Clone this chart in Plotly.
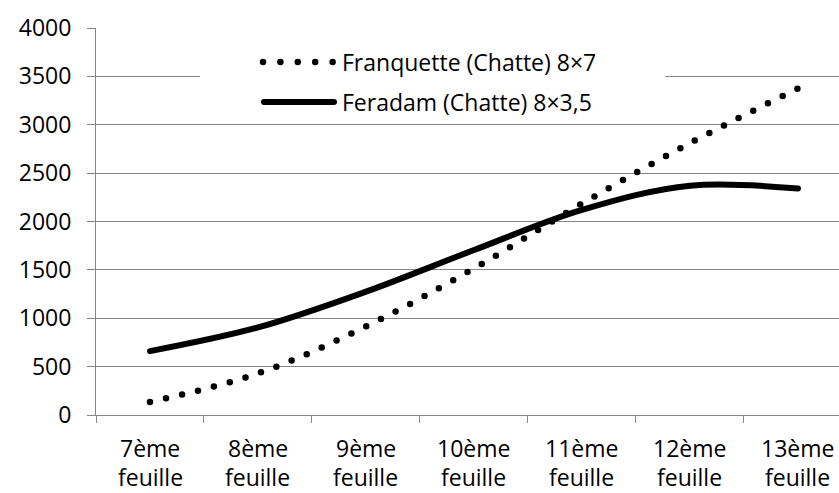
import plotly.graph_objects as go

label_top = ["7ème", "8ème", "9ème", "10ème", "11ème", "12ème", "13ème"]
label_bottom = ["feuille"] * 7
categories = [a + " " + b for a, b in zip(label_top, label_bottom)]
franquette = [135, 430, 915, 1515, 2185, 2810, 3375]
feradam = [660, 905, 1275, 1705, 2120, 2370, 2340]
series_names = ["Franquette (Chatte) 8×7", "Feradam (Chatte) 8×3,5"]
y_ticks = [0, 500, 1000, 1500, 2000, 2500, 3000, 3500, 4000]

W, H = 839, 493
L, R, T, B = 96, 0, 28, 78
PW, PH = W - L - R, H - T - B

def px_x(p):
    return (p - L) / PW

def px_y(p):
    return (H - B - p) / PH

FONT = "Open Sans"
FS = 23
GRID = "#868686"

fig = go.Figure()
fig.add_trace(go.Scatter(x=categories, y=franquette, mode="lines", name=series_names[0],
                         line=dict(color="black", width=6.5, dash="0px,16.5px", shape="spline"),
                         showlegend=False))
fig.add_trace(go.Scatter(x=categories, y=feradam, mode="lines", name=series_names[1],
                         line=dict(color="black", width=6, shape="spline"),
                         showlegend=False))

# legend box (custom, Excel style)
shapes = [
    dict(type="rect", xref="paper", yref="paper", x0=px_x(200), x1=px_x(665),
         y0=px_y(122), y1=px_y(40), fillcolor="white", line=dict(width=0), layer="above"),
    dict(type="line", xref="paper", yref="paper", x0=px_x(263), x1=px_x(333),
         y0=px_y(62), y1=px_y(62), line=dict(color="black", width=6.5, dash="0px,17.4px"),
         layer="above"),
    dict(type="line", xref="paper", yref="paper", x0=px_x(264), x1=px_x(334),
         y0=px_y(102), y1=px_y(102), line=dict(color="black", width=6), layer="above"),
]
annotations = [
    dict(xref="paper", yref="paper", x=px_x(340), y=px_y(62), text=series_names[0],
         showarrow=False, xanchor="left", yanchor="middle",
         font=dict(family=FONT, size=FS, color="black")),
    dict(xref="paper", yref="paper", x=px_x(340), y=px_y(102), text=series_names[1],
         showarrow=False, xanchor="left", yanchor="middle",
         font=dict(family=FONT, size=FS, color="black")),
]
# two-line category labels (Excel spacing)
for cat, top, bot in zip(categories, label_top, label_bottom):
    annotations.append(dict(xref="x", yref="paper", x=cat, y=px_y(448), text=top,
                            showarrow=False, xanchor="center", yanchor="middle", borderpad=0,
                            font=dict(family=FONT, size=FS, color="black")))
    annotations.append(dict(xref="x", yref="paper", x=cat, y=px_y(477), text=bot,
                            showarrow=False, xanchor="center", yanchor="middle", borderpad=0,
                            font=dict(family=FONT, size=FS, color="black")))

fig.update_layout(
    width=W, height=H, autosize=False,
    margin=dict(l=L, r=R, t=T, b=B, pad=0),
    plot_bgcolor="white", paper_bgcolor="white",
    font=dict(family=FONT, size=FS, color="black"),
    shapes=shapes, annotations=annotations,
    showlegend=False,
)
fig.update_xaxes(
    type="category", range=[-0.5, 6.38], tickson="boundaries",
    ticks="outside", ticklen=7, tickcolor=GRID, tickwidth=1,
    showline=True, linecolor=GRID, linewidth=1,
    showgrid=False, zeroline=False, showticklabels=False,
)
fig.update_yaxes(
    range=[0, 4000], tickvals=y_ticks, ticktext=[str(v) for v in y_ticks],
    ticks="outside", ticklen=8, tickcolor=GRID, tickwidth=1,
    showline=True, linecolor=GRID, linewidth=1,
    showgrid=True, gridcolor=GRID, gridwidth=1, zeroline=False,
    ticklabelstandoff=11,
    tickfont=dict(family=FONT, size=FS, color="black"),
)

post = """
var s=document.createElement('style');
s.textContent='html,body{margin:0!important;padding:0!important;overflow:hidden;} .scatterlayer .js-line, .shapelayer path{stroke-linecap:round !important;}';
document.head.appendChild(s);
function fixDots(){
  var tr=document.querySelectorAll('.scatterlayer .trace');
  if(!tr.length) return;
  var p=tr[0].querySelector('.js-line');
  if(!p) return;
  var len=p.getTotalLength();
  var n=Math.round(len/16.5);
  var g=(len-0.6)/n;
  p.style.setProperty('stroke-dasharray','0px,'+g+'px','important');
}
fixDots(); setTimeout(fixDots,30); setTimeout(fixDots,200);
"""
fig.write_html("out.html", post_script=post, config={"displayModeBar": False})
